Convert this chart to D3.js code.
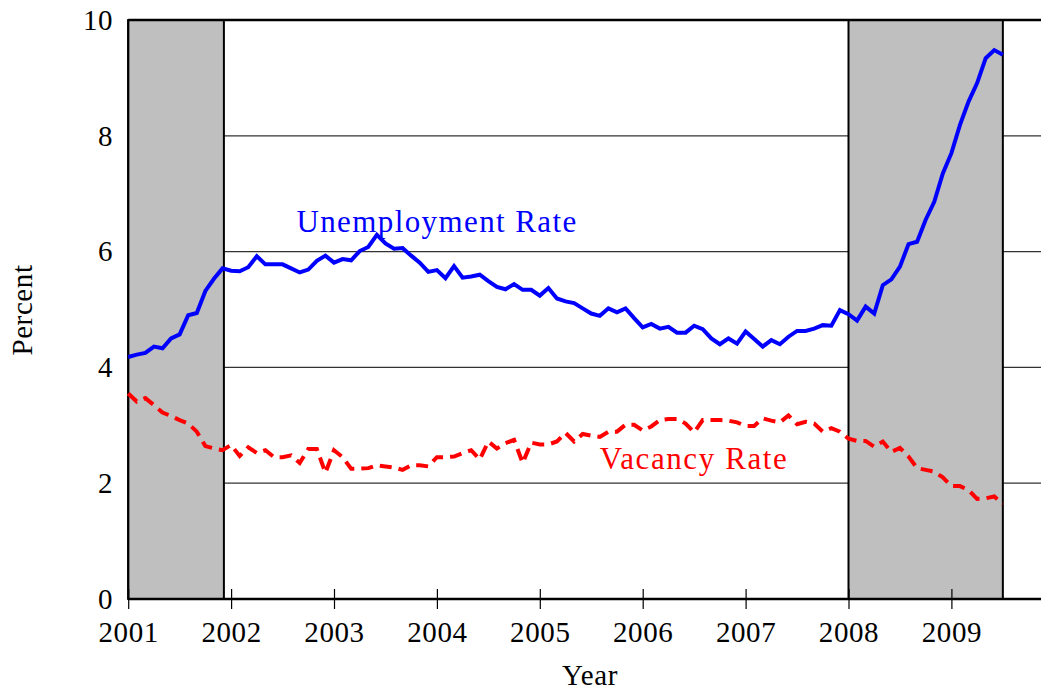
<!DOCTYPE html>
<html lang="en">
<head>
  <meta charset="utf-8">
  <title>Unemployment and Vacancy Rates</title>
  <script src="https://cdnjs.cloudflare.com/ajax/libs/d3/7.8.5/d3.min.js"></script>
  <style type="text/css">
  body { margin: 0; background: #fff; }
  svg { display: block; }
  text { font-family: 'Liberation Serif', 'DejaVu Serif', serif; }
  .axis text { font-size: 29px; fill: #000; letter-spacing: 0.6px; }
  .axis path { display: none; }
  .axis line { stroke: #000; stroke-width: 1.2; }
  </style>
</head>
<body>
  <svg id="chart"></svg>
  <script type="text/javascript">
  // monthly values, Jan 2001 .. Jul 2009
  var startYear = 2001;
  var unemployment = [
    4.18, 4.22, 4.25, 4.36, 4.33, 4.50, 4.57, 4.90, 4.94, 5.32, 5.53, 5.71,
    5.67, 5.66, 5.73, 5.92, 5.78, 5.78, 5.78, 5.71, 5.64, 5.69, 5.84, 5.93,
    5.81, 5.87, 5.85, 6.01, 6.08, 6.29, 6.14, 6.05, 6.06, 5.93, 5.81, 5.65,
    5.68, 5.54, 5.75, 5.55, 5.57, 5.60, 5.49, 5.39, 5.35, 5.44, 5.34, 5.34,
    5.24, 5.37, 5.19, 5.14, 5.11, 5.02, 4.93, 4.89, 5.02, 4.95, 5.02, 4.85,
    4.69, 4.75, 4.67, 4.70, 4.60, 4.60, 4.72, 4.66, 4.50, 4.40, 4.50, 4.41,
    4.62, 4.49, 4.36, 4.47, 4.40, 4.53, 4.63, 4.63, 4.67, 4.73, 4.72, 4.99,
    4.92, 4.81, 5.05, 4.93, 5.42, 5.52, 5.74, 6.13, 6.17, 6.55, 6.86, 7.35,
    7.70, 8.19, 8.59, 8.91, 9.34, 9.48, 9.40
  ];
  var vacancy = [
    3.55, 3.41, 3.47, 3.35, 3.22, 3.16, 3.09, 3.03, 2.89, 2.64, 2.60, 2.57,
    2.66, 2.47, 2.62, 2.52, 2.57, 2.45, 2.45, 2.48, 2.35, 2.59, 2.59, 2.18,
    2.57, 2.45, 2.25, 2.25, 2.26, 2.31, 2.29, 2.27, 2.23, 2.31, 2.31, 2.29,
    2.45, 2.45, 2.46, 2.52, 2.57, 2.41, 2.72, 2.60, 2.69, 2.75, 2.35, 2.70,
    2.67, 2.67, 2.72, 2.87, 2.72, 2.85, 2.82, 2.80, 2.89, 2.89, 3.01, 3.01,
    2.91, 2.98, 3.09, 3.11, 3.11, 3.03, 2.88, 3.09, 3.09, 3.09, 3.08, 3.05,
    2.99, 2.99, 3.12, 3.08, 3.05, 3.17, 3.02, 3.06, 3.03, 2.89, 2.95, 2.89,
    2.77, 2.73, 2.73, 2.63, 2.72, 2.54, 2.61, 2.46, 2.26, 2.23, 2.20, 2.10,
    1.95, 1.95, 1.88, 1.73, 1.74, 1.77, 1.64
  ];
  var recessions = [[2001, 2001.93], [2008, 2009.5]];
  var xTicks = [2001, 2002, 2003, 2004, 2005, 2006, 2007, 2008, 2009];
  var yTicks = [0, 2, 4, 6, 8, 10];
  var gridValues = [2, 4, 6, 8];

  var w = 1041;
  var h = 691;

  var svg = d3.select("#chart")
    .attr("width", w)
    .attr("height", h);

  var x = d3.scaleLinear().domain([2001, 2010]).range([128.2, 128.2 + 9 * 102.9]);
  var y = d3.scaleLinear().domain([0, 10]).range([599, 20]);

  function monthX(d, i) { return x(startYear + i / 12); }

  // grid lines
  svg.append("g")
    .selectAll("line")
    .data(gridValues)
    .enter()
    .append("line")
    .attr("x1", x(2001))
    .attr("x2", w)
    .attr("y1", function(d) { return y(d); })
    .attr("y2", function(d) { return y(d); })
    .style("stroke", "#333")
    .style("stroke-width", 1.2);

  // recession shading
  svg.append("g")
    .selectAll("rect")
    .data(recessions)
    .enter()
    .append("rect")
    .attr("x", function(d) { return x(d[0]); })
    .attr("y", y(10))
    .attr("width", function(d) { return x(d[1]) - x(d[0]); })
    .attr("height", y(0) - y(10))
    .style("fill", "#bfbfbf")
    .style("stroke", "#000")
    .style("stroke-width", 2);

  // frame: left, top, bottom
  svg.append("line")
    .attr("x1", x(2001)).attr("x2", x(2001))
    .attr("y1", y(0)).attr("y2", y(10))
    .style("stroke", "#000").style("stroke-width", 2);
  svg.append("line")
    .attr("x1", x(2001)).attr("x2", w)
    .attr("y1", y(10)).attr("y2", y(10))
    .style("stroke", "#000").style("stroke-width", 2.5);
  svg.append("line")
    .attr("x1", x(2001)).attr("x2", w)
    .attr("y1", y(0)).attr("y2", y(0))
    .style("stroke", "#000").style("stroke-width", 2.5);

  // x axis
  var xAxis = svg.append("g")
    .attr("class", "axis")
    .attr("transform", "translate(0," + y(0) + ")")
    .call(d3.axisBottom(x).tickValues(xTicks).tickFormat(d3.format("d")).tickSize(10).tickPadding(12));
  xAxis.selectAll(".tick line").attr("y1", -10);

  // y axis
  svg.append("g")
    .attr("class", "axis")
    .attr("transform", "translate(" + x(2001) + ",0)")
    .call(d3.axisLeft(y).tickValues(yTicks).tickFormat(d3.format("d")).tickSize(0).tickPadding(15));

  // series
  var line = d3.line()
    .x(monthX)
    .y(function(d) { return y(d); });

  svg.append("path")
    .datum(vacancy)
    .attr("d", line)
    .style("fill", "none")
    .style("stroke", "#ff0000")
    .style("stroke-width", 4)
    .style("stroke-dasharray", "12,7");

  svg.append("path")
    .datum(unemployment)
    .attr("d", line)
    .style("fill", "none")
    .style("stroke", "#0000ff")
    .style("stroke-width", 4)
    .style("stroke-linejoin", "miter");

  // series labels
  svg.append("text")
    .attr("x", 437)
    .attr("y", 232)
    .attr("text-anchor", "middle")
    .style("font-size", "31px")
    .style("letter-spacing", "1.4px")
    .style("fill", "#0000ff")
    .text("Unemployment Rate");

  svg.append("text")
    .attr("x", 694)
    .attr("y", 469)
    .attr("text-anchor", "middle")
    .style("font-size", "31px")
    .style("letter-spacing", "1.6px")
    .style("fill", "#ff0000")
    .text("Vacancy Rate");

  // axis titles
  svg.append("text")
    .attr("x", 590)
    .attr("y", 685)
    .attr("text-anchor", "middle")
    .style("font-size", "29px")
    .style("letter-spacing", "0.6px")
    .text("Year");

  svg.append("text")
    .attr("transform", "translate(32,310) rotate(-90)")
    .attr("text-anchor", "middle")
    .style("font-size", "29px")
    .style("letter-spacing", "0.6px")
    .text("Percent");
  </script>
</body>
</html>
